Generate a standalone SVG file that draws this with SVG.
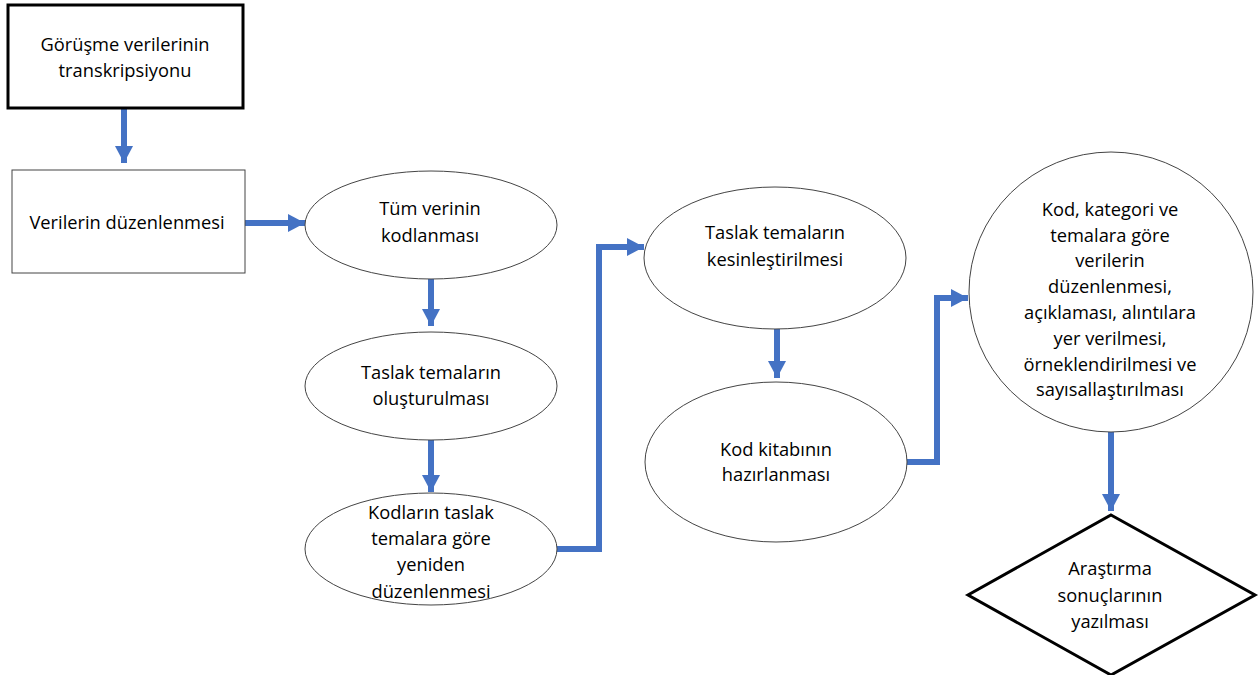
<svg xmlns="http://www.w3.org/2000/svg" width="1260" height="675" viewBox="0 0 1260 675">
<style>
.t{font-family:"Open Sans","Noto Sans","Liberation Sans",sans-serif;font-size:18.3px;fill:#000;text-anchor:middle}
.n{fill:#fff;stroke:#444;stroke-width:1}
.k{fill:#fff;stroke:#000;stroke-width:3}
.c{fill:none;stroke:#4472C4;stroke-width:6;marker-end:url(#ah)}
</style>
<defs>
<marker id="ah" markerUnits="userSpaceOnUse" markerWidth="18" markerHeight="18" refX="17" refY="9" orient="auto">
<path d="M0,0 L17,9 L0,18 Z" fill="#4472C4"/>
</marker>
</defs>
<rect width="1260" height="675" fill="#fff"/>
<g id="connectors">
<path class="c" d="M124,109 V163"/>
<path class="c" d="M245,223 H305"/>
<path class="c" d="M431,279 V326"/>
<path class="c" d="M431,440 V492"/>
<path class="c" d="M557,549 H599 V247 H644"/>
<path class="c" d="M777,329 V378"/>
<path class="c" d="M907,462 H937 V298 H968"/>
<path class="c" d="M1111,432 V511"/>
</g>
<g id="n1"><rect class="k" x="8" y="5" width="235" height="103"/>
<text class="t" x="125" y="51">Görüşme verilerinin</text><text class="t" x="125" y="77">transkripsiyonu</text></g>
<g id="n2"><rect class="n" x="12" y="170" width="233" height="103"/>
<text class="t" x="127" y="229">Verilerin düzenlenmesi</text></g>
<g id="n3"><ellipse class="n" cx="431" cy="225" rx="126" ry="54"/>
<text class="t" x="430" y="215">Tüm verinin</text><text class="t" x="430" y="242">kodlanması</text></g>
<g id="n4"><ellipse class="n" cx="431" cy="386" rx="126" ry="54"/>
<text class="t" x="431" y="379">Taslak temaların</text><text class="t" x="431" y="405">oluşturulması</text></g>
<g id="n5"><ellipse class="n" cx="431" cy="549" rx="126" ry="56"/>
<text class="t" x="431" y="519">Kodların taslak</text><text class="t" x="431" y="545">temalara göre</text><text class="t" x="431" y="571">yeniden</text><text class="t" x="431" y="598">düzenlenmesi</text></g>
<g id="n6"><ellipse class="n" cx="775" cy="258" rx="131" ry="71"/>
<text class="t" x="775" y="239">Taslak temaların</text><text class="t" x="775" y="266">kesinleştirilmesi</text></g>
<g id="n7"><ellipse class="n" cx="776" cy="462" rx="131" ry="80"/>
<text class="t" x="776" y="456">Kod kitabının</text><text class="t" x="776" y="481">hazırlanması</text></g>
<g id="n8"><ellipse class="n" cx="1111" cy="292" rx="142" ry="140"/>
<text class="t" x="1110" y="216">Kod, kategori ve</text><text class="t" x="1110" y="242">temalara göre</text><text class="t" x="1110" y="267">verilerin</text><text class="t" x="1110" y="293">düzenlenmesi,</text><text class="t" x="1110" y="319">açıklaması, alıntılara</text><text class="t" x="1110" y="345">yer verilmesi,</text><text class="t" x="1110" y="371">örneklendirilmesi  ve</text><text class="t" x="1110" y="396">sayısallaştırılması</text></g>
<g id="n9"><polygon class="k" points="1111,515 1255,595 1111,675 968,595"/>
<text class="t" x="1110" y="575">Araştırma</text><text class="t" x="1110" y="602">sonuçlarının</text><text class="t" x="1110" y="628">yazılması</text></g>
</svg>
